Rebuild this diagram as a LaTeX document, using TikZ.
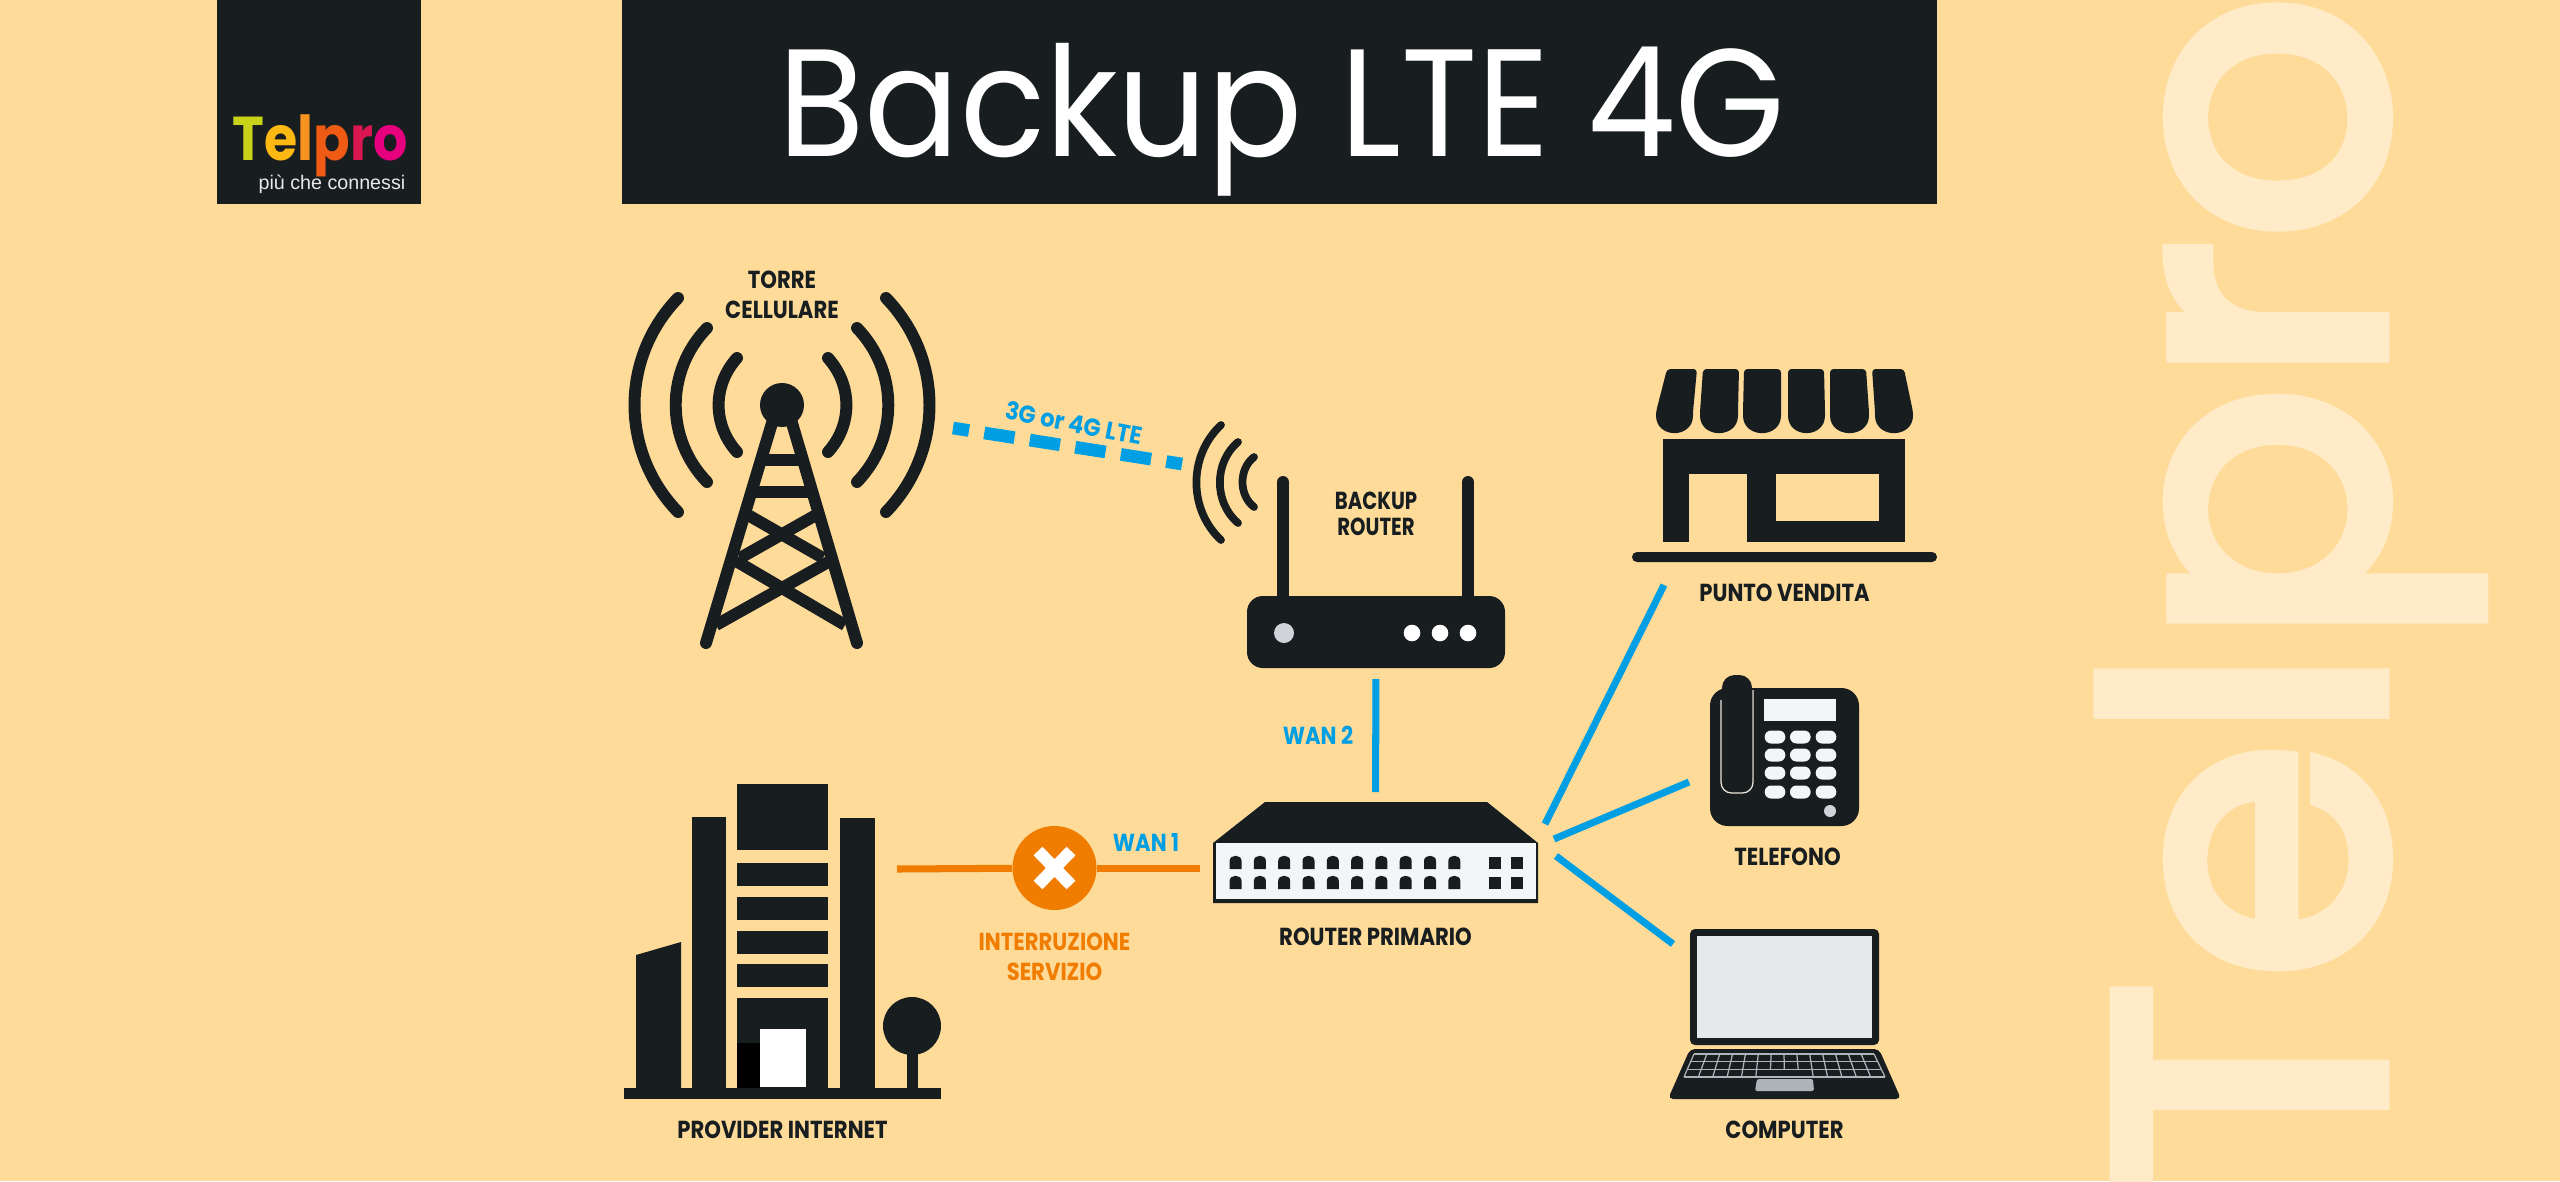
\documentclass[tikz,border=0pt]{standalone}
\usepackage{fontspec}
\setmainfont{Poppins}
\newfontfamily\lblfont[FakeStretch=0.86]{Poppins}
\newfontfamily\tightfont[FakeStretch=0.8]{Poppins}
\newfontfamily\airfont[FakeStretch=0.92]{Poppins}
\newfontfamily\titlefont[FakeStretch=0.92]{Poppins}
\newfontfamily\brandfont[FakeStretch=0.87]{Poppins}
\newfontfamily\ghostfont[FakeStretch=1.017,FakeBold=4]{Poppins}
\newfontfamily\tagfont{Liberation Sans}
\usepackage{xcolor}
\usetikzlibrary{positioning}
\usetikzlibrary{fit}
\definecolor{page}{HTML}{FEDB99}
\definecolor{ink}{HTML}{181D20}
\definecolor{wan}{HTML}{009FE3}
\definecolor{cut}{HTML}{F07D00}
\definecolor{ghost}{HTML}{FFEBC8}
\definecolor{led}{HTML}{D0D3D7}
\definecolor{pale}{HTML}{F4F5F7}
\definecolor{glass}{HTML}{E6E8EC}
\definecolor{keys}{HTML}{AEB5BA}
\tikzstyle{box} = [inner sep=0,outer sep=0,draw=none]
\tikzstyle{lbl} = [inner sep=0,outer sep=0,align=center,text=ink,text depth=0pt,
  font=\lblfont\bfseries\fontsize{7}{8.5}\selectfont]
\tikzstyle{bluelbl} = [lbl,text=wan]
\tikzstyle{cutlbl} = [lbl,text=cut]
\tikzstyle{wave} = [draw=ink,line cap=round,line width=3.4pt]
\tikzstyle{smallwave} = [draw=ink,line cap=round,line width=2.2pt]
\tikzstyle{wire} = [draw=wan,line width=2pt]
\tikzstyle{cutwire} = [draw=cut,line width=2pt]
\tikzstyle{keyline} = [draw=keys,line width=0.35pt]

\begin{document}
\begin{tikzpicture}[x=0.01cm,y=-0.01cm]
  \useasboundingbox (0,0) rectangle (2560,1181);
  \fill [page] (0,0) rectangle (2560,1181);

  % big name on the right
  \node [inner sep=0,rotate=90,anchor=base west,text=ghost,
    font=\ghostfont\fontsize{108}{108}\selectfont] (bigname) at (2382,1190) {Telpro};

  % header
  \fill [ink] (217,0) rectangle (421,204);
  \fill [ink] (622,0) rectangle (1937,204);
  \node [inner sep=0,anchor=base west,font=\brandfont\bfseries\fontsize{17.6}{18}\selectfont] (brand) at (232,160)
    {\textcolor[HTML]{C8D219}{T}\textcolor[HTML]{FDB913}{e}\textcolor[HTML]{F7931E}{l}\textcolor[HTML]{EF5A14}{p}\textcolor[HTML]{D9164F}{r}\textcolor[HTML]{E6007E}{o}};
  \node [inner sep=0,anchor=base east,text=glass,font=\tagfont\fontsize{5.6}{6}\selectfont] (slogan) at (406,189) {più che connessi};
  \node [inner sep=0,anchor=base,text=white,font=\titlefont\fontsize{43.5}{44}\selectfont] (title) at (1282,156) {Backup LTE 4G};

  % tower
  \node [box,fit={(629,292) (935,643)}] (tower) {};
  \node [circle,fill=ink,inner sep=0,minimum size=0.44cm] (head) at (782,405) {};
  \draw [wave] (886,298) to [bend left=44] (886,512);
  \draw [wave] (857,328) to [bend left=44] (857,482);
  \draw [wave] (828,358) to [bend left=42] (828,452);
  \draw [wave] (678,298) to [bend right=44] (678,512);
  \draw [wave] (707,328) to [bend right=44] (707,482);
  \draw [wave] (737,358) to [bend right=42] (737,452);
  \draw [wave] (772,423) -- (706,643);
  \draw [wave] (792,423) -- (857,643);
  \draw [draw=ink,line width=3.4pt] (762,460) -- (802,460);
  \draw [draw=ink,line width=3.4pt] (752,492) -- (811,492);
  \draw [draw=ink,line width=3.4pt] (748,515) -- (823,558);
  \draw [draw=ink,line width=3.4pt] (816,515) -- (740,558);
  \draw [draw=ink,line width=3.4pt] (736,561) -- (845,625);
  \draw [draw=ink,line width=3.4pt] (830,561) -- (716,625);
  \node [lbl,above=0.635cm of head] (ltower) {TORRE\\CELLULARE};

  % backup router
  \node [box,fit={(1247,596) (1505,668)}] (router) {};
  \fill [ink,rounded corners=4.5pt] (router.north west) rectangle (router.south east);
  \draw [wave] (1283,482) -- (1283,600);
  \draw [wave] (1468,482) -- (1468,600);
  \fill [led] (1284,633) circle [radius=10];
  \foreach \dx in {1412,1440,1468}
    \fill [white] (\dx,633) circle [radius=8.3];
  \draw [smallwave] (1221,425) to [bend right=47] (1221,540);
  \draw [smallwave] (1238,442) to [bend right=50] (1238,523);
  \draw [smallwave] (1254,457) to [bend right=52] (1254,507);
  \node [lbl,font=\tightfont\bfseries\fontsize{7}{7.5}\selectfont,above=0.6cm of router] (lrouter) {BACKUP\\ROUTER};

  % link from the tower to the backup router
  \coordinate (airA) at (953,428);
  \coordinate (airB) at (1182,464);
  \draw [draw=wan,line width=3.6pt,
    dash pattern=on 4.6pt off 4.4pt on 8.7pt off 4.4pt on 8.7pt off 4.4pt on 8.7pt off 4.4pt on 8.7pt off 4.4pt on 4.6pt off 20pt] (airA) -- (airB);
  \node [bluelbl,font=\airfont\bfseries\fontsize{7}{8.5}\selectfont,rotate=-11] (lair) at (1074,423) {3G or 4G LTE};

  % provider
  \node [box,fit={(624,784) (941,1099)}] (provider) {};
  \fill [ink] (624,1088) rectangle (941,1099);
  \fill [ink] (636,955) -- (681,942) -- (681,1090) -- (636,1090) -- cycle;
  \fill [ink] (691.5,817) rectangle (726,1090);
  \fill [ink] (840,818) rectangle (875,1090);
  \fill [ink] (737,784) rectangle (828,850);
  \foreach \by in {863,897,931,964}
    \fill [ink] (737,\by) rectangle (828,\by+22.5);
  \fill [ink] (737,998) rectangle (828,1090);
  \fill [black] (737,1043) rectangle (760,1088);
  \fill [white] (760,1029) rectangle (806,1087);
  \fill [ink] (907,1040) rectangle (917.5,1090);
  \fill [ink] (912,1026) circle [radius=29];
  \node [lbl,below=0.215cm of provider] (lprovider) {PROVIDER INTERNET};

  % switch
  \node [box,fit={(1213,802) (1538,903)}] (switch) {};
  \fill [ink] (1265,802) -- (1487,802) -- (1538,843) -- (1538,903) -- (1213,903) -- (1213,843) -- cycle;
  \fill [pale] (1216,843) rectangle (1535.5,899);
  \foreach \i in {0,...,9} {
    \pgfmathsetmacro\px{1235.6+\i*24.3}
    \foreach \py in {856,876}
      \fill [ink] (\px-6,\py+13) -- (\px-6,\py+5) .. controls (\px-6,\py-2) and (\px+6,\py-2) .. (\px+6,\py+5) -- (\px+6,\py+13) -- cycle;
  }
  \foreach \px in {1489,1511}
    \foreach \py in {857,877}
      \fill [ink] (\px,\py) rectangle (\px+12,\py+12);
  \node [lbl,below=0.245cm of switch] (lswitch) {ROUTER PRIMARIO};

  % broken line
  \node [circle,fill=cut,inner sep=0,minimum size=0.84cm] (fail) at (1054.5,868) {};
  \coordinate (cutA) at (897,869);
  \draw [cutwire] (cutA) -- (fail);
  \draw [cutwire,shorten >=0.13cm] (fail) -- (switch.west |- fail);
  \draw [draw=white,line width=3.5pt] (1038,851) -- (1071,885);
  \draw [draw=white,line width=3.5pt] (1071,851) -- (1038,885);
  \node [cutlbl,below=0.225cm of fail] (lfail) {INTERRUZIONE\\SERVIZIO};
  \node [bluelbl] (lwanA) at (1146,842) {WAN 1};

  \draw [wire,shorten <=0.11cm,shorten >=0.10cm] (router.south) -- (switch.north);
  \node [bluelbl] (lwanB) at (1318,735) {WAN 2};

  % store
  \node [box,fit={(1632,369) (1937,562)}] (store) {};
  \foreach \tl/\tr/\bl/\br in {1667/1697/1656/1693,1703/1739/1700/1738,1744/1781/1743/1781,1788/1824/1788/1825,1830/1866/1830/1869,1872/1904/1875/1913}
    \fill [ink,rounded corners=1pt] (\tl,369) -- (\tr,369) -- (\br,412) .. controls (\br,439) and (\bl,439) .. (\bl,412) -- cycle;
  \fill [ink] (1663,439) rectangle (1905,542);
  \fill [page] (1689,474) rectangle (1747,543);
  \fill [page] (1776,474) rectangle (1879,521);
  \fill [ink,rounded corners=1.4pt] (1632,552) rectangle (1937,562);
  \node [lbl,below=0.215cm of store] (lstore) {PUNTO VENDITA};

  % phone
  \node [box,fit={(1710,675) (1859,826)}] (phone) {};
  \fill [ink,rounded corners=5pt] (1710,688) rectangle (1859,826);
  \draw [draw=glass!80!page,line width=0.35pt,rounded corners=3pt] (1721,700) -- (1721,793) -- (1753,793) -- (1753,690);
  \fill [ink,rounded corners=3.6pt] (1722,675) rectangle (1752,791);
  \fill [pale] (1764,699) rectangle (1836,721);
  \foreach \kx in {1775,1800.3,1826}
    \foreach \ky in {737,755,773,792}
      \fill [pale,rounded corners=1.8pt] (\kx-10.3,\ky-6.5) rectangle (\kx+10.3,\ky+6.5);
  \fill [led] (1830,811) circle [radius=6];
  \node [lbl,below=0.215cm of phone,xshift=0.03cm] (lphone) {TELEFONO};

  % laptop
  \node [box,fit={(1668,929) (1901,1099)}] (laptop) {};
  \fill [ink,rounded corners=1.4pt] (1690,1045) -- (1690,929) -- (1879,929) -- (1879,1045) -- cycle;
  \fill [glass] (1697,936) rectangle (1872,1038);
  \fill [ink,rounded corners=1.4pt] (1690,1049) -- (1879,1049) -- (1901,1099) -- (1668,1099) -- cycle;
  \foreach \r in {0,1,2,3}
    \draw [keyline] (1694-3.33*\r,1054+7.67*\r) -- (1874+3.67*\r,1054+7.67*\r);
  \foreach \k in {0,...,14}
    \draw [keyline] (1694+\k*12.857,1054) -- (1687.3+\k*13.86,1069.3);
  \foreach \k in {0,1,2,3,4,5,9,10,11,12,13,14}
    \draw [keyline] (1687.3+\k*13.86,1069.3) -- (1684+\k*14.357,1077);
  \fill [keys,rounded corners=0.6pt] (1757,1079) -- (1813,1079) -- (1814,1091) -- (1755,1091) -- cycle;
  \node [lbl,below=0.215cm of laptop] (llaptop) {COMPUTER};

  % lines from the switch
  \coordinate (outA) at (1545,824);
  \coordinate (outB) at (1554,839);
  \coordinate (outC) at (1556,856);
  \coordinate (inA) at (1664,585);
  \coordinate (inB) at (1689,782);
  \coordinate (inC) at (1673,944);
  \draw [wire] (outA) -- (inA);
  \draw [wire] (outB) -- (inB);
  \draw [wire] (outC) -- (inC);
\end{tikzpicture}
\end{document}
